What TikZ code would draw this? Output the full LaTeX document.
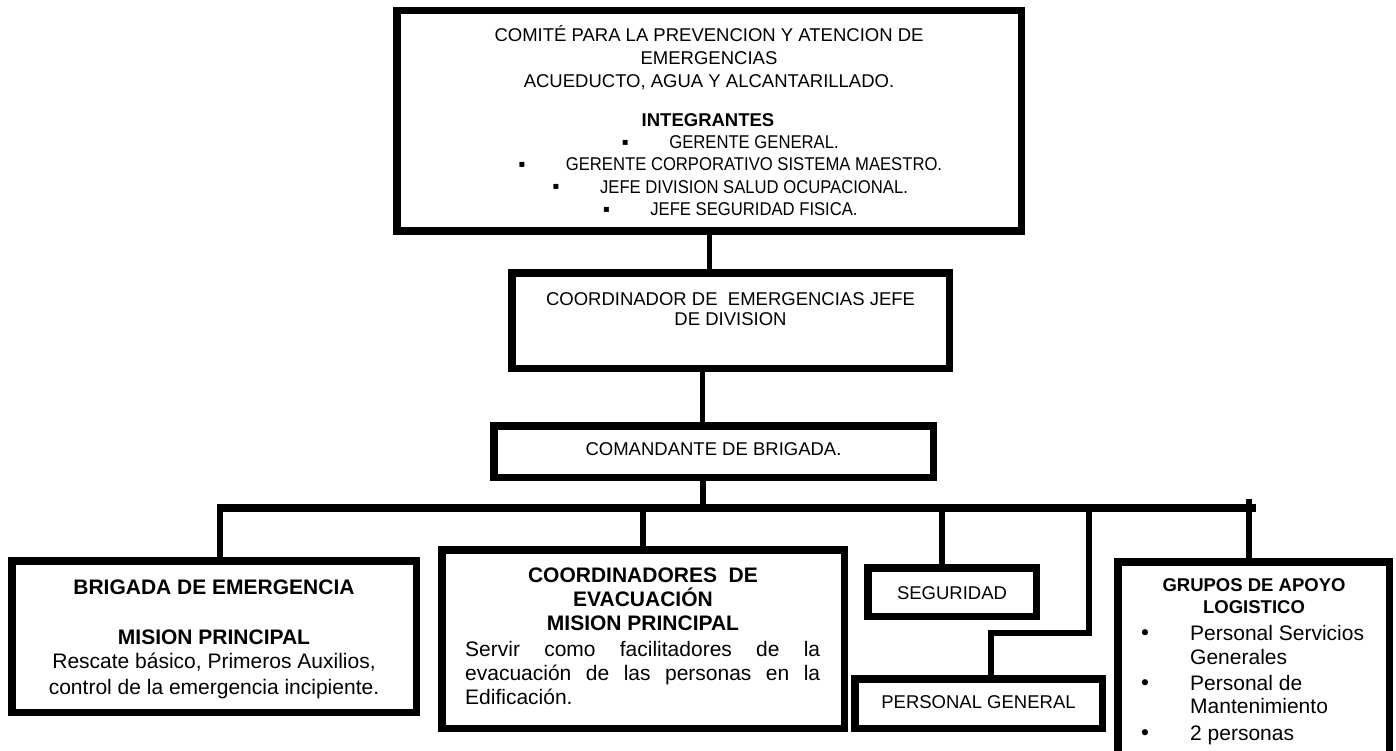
\documentclass[tikz,border=0pt]{standalone}
\usepackage{fontspec}
\setmainfont{Liberation Sans}
\newfontfamily\narrowfont[FakeStretch=0.9]{Liberation Sans}
\newfontfamily\symfont{DejaVu Sans}
\newcommand{\sqblt}{\makebox[0pt]{\raisebox{3.5pt}{\symfont\fontsize{10}{10}\selectfont ▪}}}
\begin{document}
\begin{tikzpicture}[x=1pt,y=-1pt,
  box/.style={draw, line width=7.5pt, inner sep=0pt, rectangle},
  conn/.style={line width=6pt},
  thinconn/.style={line width=5pt},
  bus/.style={line width=8pt},
  txtA/.style={inner sep=0pt, font=\fontsize{18.5}{22}\selectfont},
  txtAb/.style={inner sep=0pt, font=\fontsize{18.5}{22}\selectfont\bfseries},
  txtB/.style={inner sep=0pt, font=\fontsize{21}{25}\selectfont},
  txtBb/.style={inner sep=0pt, font=\fontsize{21}{25}\selectfont\bfseries}]
\useasboundingbox[fill=white] (0,0) rectangle (1396,751);

% boxes
\node[box, minimum width=624.5pt, minimum height=220.5pt] (top) at (709,121) {};
\node[box, minimum width=437.5pt, minimum height=95.5pt] (coord) at (730.5,320.5) {};
\node[box, minimum width=439.5pt, minimum height=51.5pt] (cmd) at (713.5,451.5) {};
\node[box, minimum width=404.5pt, minimum height=151.5pt] (brig) at (214,636.5) {};
\node[box, minimum width=402.5pt, minimum height=178.5pt] (coordev) at (643,639) {};
\node[box, minimum width=168.5pt, minimum height=48.5pt] (seg) at (952,592) {};
\node[box, minimum width=247.5pt, minimum height=49.5pt] (pg) at (978.5,703.5) {};
\node[box, minimum width=271.5pt, minimum height=199.5pt] (grp) at (1253.5,661.5) {};

% top box text
\node[txtA, anchor=base] (t1) at (709,41.6) {COMITÉ PARA LA PREVENCION Y ATENCION DE};
\node[txtA, anchor=base] (t2) at (709,64.4) {EMERGENCIAS};
\node[txtA, anchor=base] (t3) at (709,87.2) {ACUEDUCTO, AGUA Y ALCANTARILLADO.};
\node[txtAb, anchor=base] (t4) at (708,126.6) {INTEGRANTES};
\node[txtA, anchor=base] (t5) at (732,148.8) {\sqblt\hspace{44pt}{\narrowfont GERENTE GENERAL.}};
\node[txtA, anchor=base] (t6) at (732,171) {\sqblt\hspace{44pt}{\narrowfont GERENTE CORPORATIVO SISTEMA MAESTRO.}};
\node[txtA, anchor=base] (t7) at (732,193.5) {\sqblt\hspace{44pt}{\narrowfont JEFE DIVISION SALUD OCUPACIONAL.}};
\node[txtA, anchor=base] (t8) at (732,216) {\sqblt\hspace{44pt}{\narrowfont JEFE SEGURIDAD FISICA.}};

% coordinator
\node[txtA, anchor=base] (c1) at (730.5,305) {COORDINADOR DE\ \ EMERGENCIAS JEFE};
\node[txtA, anchor=base] (c2) at (730.5,325.5) {DE DIVISION};

% comandante
\node[txtA, anchor=base] (m1) at (713.5,455.6) {COMANDANTE DE BRIGADA.};

% brigada
\node[txtBb, anchor=base] (b1) at (214,594.5) {BRIGADA DE EMERGENCIA};
\node[txtBb, anchor=base] (b2) at (214,644.5) {MISION PRINCIPAL};
\node[txtB, anchor=base] (b3) at (214,668.5) {Rescate básico, Primeros Auxilios,};
\node[txtB, anchor=base] (b4) at (214,694.5) {control de la emergencia incipiente.};

% coordinadores de evacuacion
\node[txtBb, anchor=base] (e1) at (643,582.5) {COORDINADORES\ \ DE};
\node[txtBb, anchor=base] (e2) at (643,606.5) {EVACUACIÓN};
\node[txtBb, anchor=base] (e3) at (643,630.5) {MISION PRINCIPAL};
\node[txtB, anchor=base west] (e4) at (465,656.5) {\hbox to 355pt{Servir\hfill como\hfill facilitadores\hfill de\hfill la}};
\node[txtB, anchor=base west] (e5) at (465,680) {\hbox to 355pt{evacuación\hfill de\hfill las\hfill personas\hfill en\hfill la}};
\node[txtB, anchor=base west] (e6) at (465,704.5) {Edificación.};

% seguridad, personal general
\node[txtA, anchor=base] (s1) at (952,599.6) {SEGURIDAD};
\node[txtA, anchor=base] (p1) at (978.5,708.6) {PERSONAL GENERAL};

% grupos
\node[txtAb, anchor=base] (g1) at (1254,591.6) {GRUPOS DE APOYO};
\node[txtAb, anchor=base] (g2) at (1254,613.6) {LOGISTICO};
\node[txtB, anchor=base] (gb1) at (1145,640.5) {\symfont •};
\node[txtB, anchor=base west] (g3) at (1190,640.5) {Personal Servicios};
\node[txtB, anchor=base west] (g4) at (1190,664.5) {Generales};
\node[txtB, anchor=base] (gb2) at (1145,690) {\symfont •};
\node[txtB, anchor=base west] (g5) at (1190,690) {Personal de};
\node[txtB, anchor=base west] (g6) at (1190,713.5) {Mantenimiento};
\node[txtB, anchor=base] (gb3) at (1145,740.5) {\symfont •};
\node[txtB, anchor=base west] (g7) at (1190,740.5) {2 personas};

% connectors
\coordinate (busL) at (217,507.5);
\coordinate (busR) at (1256,507.5);
\coordinate (pgk) at (1089,633);
\coordinate (gtick) at (1249,499);

\draw[thinconn] (top.south) -- (top.south |- coord.north);
\draw[thinconn] ([xshift=-28.5pt]coord.south) -- ([xshift=-28.5pt]coord.south |- cmd.north);
\draw[conn] ([xshift=-10.5pt,yshift=6pt]cmd.south) -- ([xshift=-10.5pt]cmd.south |- busL);
\draw[bus] (busL) -- (busR);
\draw[conn] ([xshift=6pt]brig.north |- busL) -- ([xshift=6pt]brig.north);
\draw[conn] (coordev.north |- busL) -- (coordev.north);
\draw[conn] ([xshift=-10pt]seg.north |- busL) -- ([xshift=-10pt]seg.north);
\draw[conn] (pgk |- busL) -- (pgk) -| ([xshift=12.5pt]pg.north);
\draw[conn] (gtick) -- (gtick |- grp.north);
\end{tikzpicture}
\end{document}
